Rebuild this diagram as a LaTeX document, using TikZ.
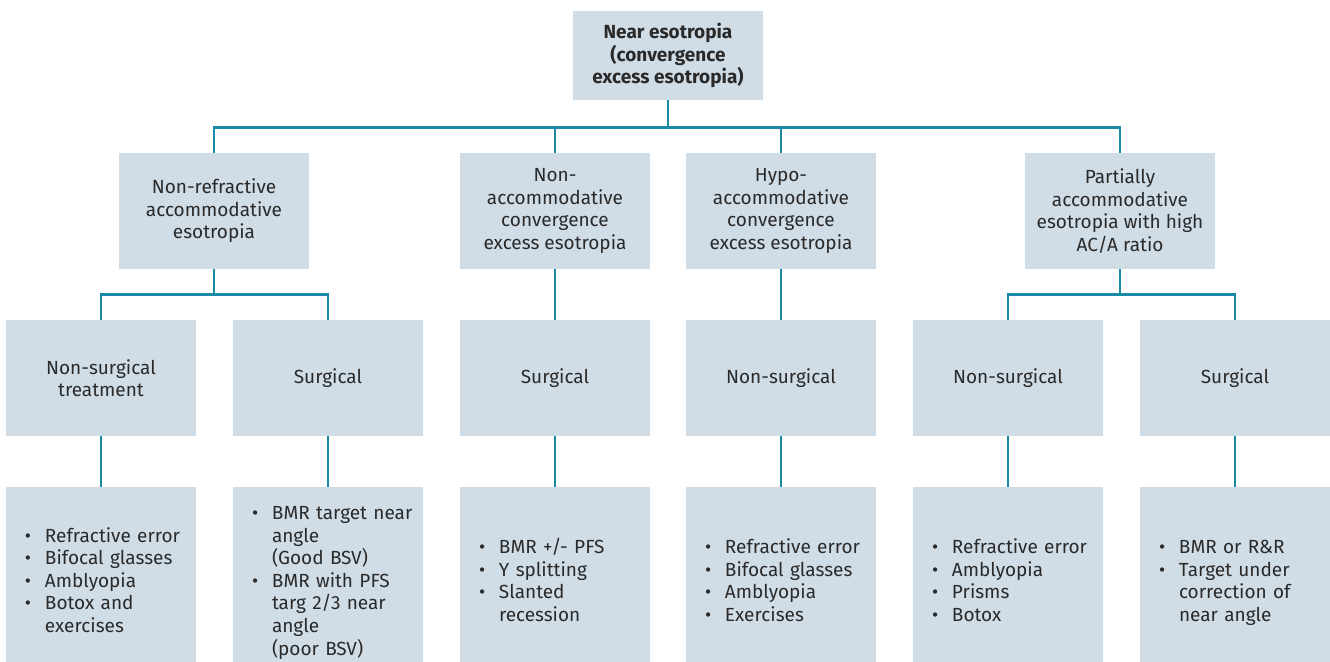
\documentclass[tikz,border=0pt]{standalone}
\usepackage{fontspec}
\setmainfont{Fira Sans}
\usepackage{array}
\usetikzlibrary{positioning}

\definecolor{boxfill}{HTML}{D0DCE6}
\definecolor{linkcol}{HTML}{1A8AA6}
\definecolor{txtcol}{HTML}{2A2A2A}

% bullet list for the bottom boxes
\newcommand{\blist}[1]{%
  \begin{tabular}{@{}p{10pt}@{}l@{}}#1\end{tabular}}

\begin{document}
\begin{tikzpicture} [x=0.5pt,y=-0.5pt,
	box/.style={
		rectangle,fill=boxfill,text=txtcol,inner sep=0pt,
		minimum width=95pt,minimum height=58pt,align=center,
		font=\fontsize{9.5}{11.25}\selectfont},
	root/.style={
		box,minimum height=44.5pt,
		font=\fontsize{9.5}{11.25}\selectfont\bfseries},
	leaf/.style={
		box,minimum height=96pt,text width=76pt,inner xsep=9.5pt,
		align=left},
	link/.style={
		draw=linkcol,line width=1.3pt}]
\useasboundingbox (0,0) rectangle (1330,662);
\clip (0,0) rectangle (1330,662);
% top
\node[root] (near) 		at (668,55.5) {Near esotropia\\(convergence\\excess esotropia)};
% second row
\node[box] (nonref) 	at (214,211) {Non-refractive\\accommodative\\esotropia};
\node[box] (nonacc) 	at (555,211) {Non-\\accommodative\\convergence\\excess esotropia};
\node[box] (hypoacc) 	at (781,211) {Hypo-\\accommodative\\convergence\\excess esotropia};
\node[box] (partacc) 	at (1120,211) {Partially\\accommodative\\esotropia with high\\AC/A ratio};
% third row
\node[box] (nonref ns) 	at (101,378) {Non-surgical\\treatment};
\node[box] (nonref s) 	at (328,378) {Surgical};
\node[box] (nonacc s) 	at (555,378) {Surgical};
\node[box] (hypoacc ns) at (781,378) {Non-surgical};
\node[box] (partacc ns) at (1008,378) {Non-surgical};
\node[box] (partacc s) 	at (1235,378) {Surgical};
% bottom row (boxes run past the lower edge)
\node[leaf] (list1) 	at (101,583) {\blist{\textbullet & Refractive error\\ \textbullet & Bifocal glasses\\ \textbullet & Amblyopia\\ \textbullet & Botox and\\ & exercises}};
\node[leaf] (list2) 	at (328,583) {\blist{\textbullet & BMR target near\\ & angle\\ & (Good BSV)\\ \textbullet & BMR with PFS\\ & targ 2/3 near\\ & angle\\ & (poor BSV)}};
\node[leaf] (list3) 	at (555,583) {\blist{\textbullet & BMR +/- PFS\\ \textbullet & Y splitting\\ \textbullet & Slanted\\ & recession}};
\node[leaf] (list4) 	at (781,583) {\blist{\textbullet & Refractive error\\ \textbullet & Bifocal glasses\\ \textbullet & Amblyopia\\ \textbullet & Exercises}};
\node[leaf] (list5) 	at (1008,583) {\blist{\textbullet & Refractive error\\ \textbullet & Amblyopia\\ \textbullet & Prisms\\ \textbullet & Botox}};
\node[leaf] (list6) 	at (1235,583) {\blist{\textbullet & BMR or R\&R\\ \textbullet & Target under\\ & correction of\\ & near angle}};
% connectors
\foreach \n in {nonref,nonacc,hypoacc,partacc}
	\draw[link] (near.south) -- +(0,27) -| (\n.north);
\draw[link] (nonref.south) -- +(0,25) -| (nonref ns.north);
\draw[link] (nonref.south) -- +(0,25) -| (nonref s.north);
\draw[link] (nonacc.south) -- (nonacc s.north);
\draw[link] (hypoacc.south) -- (hypoacc ns.north);
\draw[link] (partacc.south) -- +(0,25) -| (partacc ns.north);
\draw[link] (partacc.south) -- +(0,25) -| (partacc s.north);
\draw[link] (nonref ns.south) -- (list1.north);
\draw[link] (nonref s.south) -- (list2.north);
\draw[link] (nonacc s.south) -- (list3.north);
\draw[link] (hypoacc ns.south) -- (list4.north);
\draw[link] (partacc ns.south) -- (list5.north);
\draw[link] (partacc s.south) -- (list6.north);
\end{tikzpicture}
\end{document}
